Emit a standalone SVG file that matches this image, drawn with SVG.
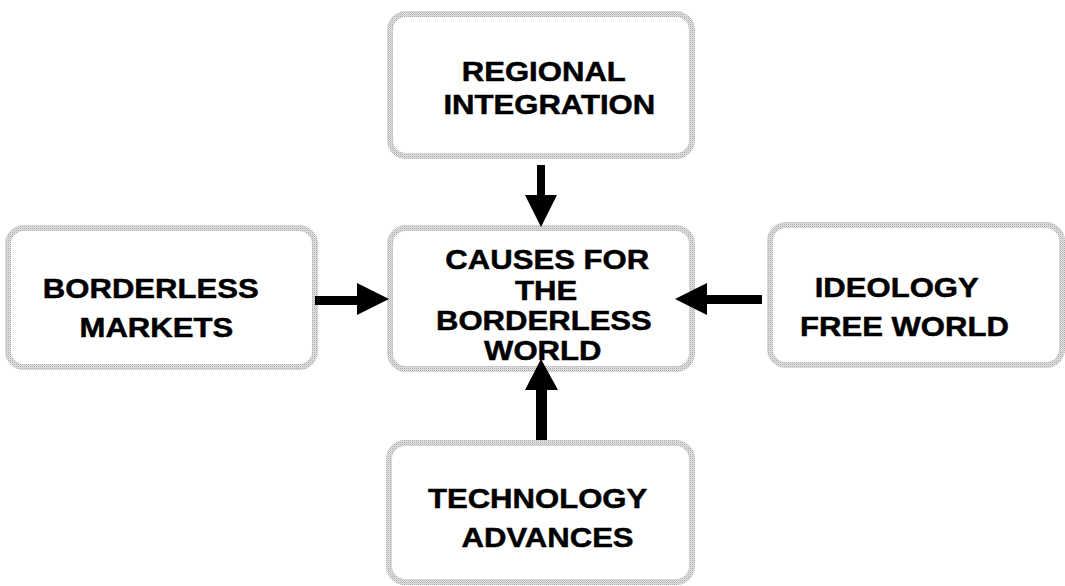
<svg xmlns="http://www.w3.org/2000/svg" width="1065" height="586" viewBox="0 0 1065 586">
  <defs>
    <!-- stippled grey used for the box outlines -->
    <pattern id="stipple" width="2" height="2" patternUnits="userSpaceOnUse">
      <rect width="2" height="2" fill="#e2e2e2"/>
      <rect width="1" height="1" fill="#ababab"/>
      <rect x="1" y="1" width="1" height="1" fill="#cfcfcf"/>
    </pattern>
  </defs>
  <style>
    .box { fill: #ffffff; stroke: url(#stipple); stroke-width: 6; }
    .lbl { font-family: "Liberation Sans", Arial, sans-serif; font-weight: bold; font-size: 28px; fill: #000; stroke: #000; stroke-width: 0.5; text-anchor: middle; }
    .arrow { fill: #000; stroke: none; }
  </style>
  <rect width="1065" height="586" fill="#ffffff"/>

  <g id="regional-integration">
    <rect class="box" x="390" y="14" width="302" height="142" rx="16"/>
    <g transform="translate(546,0) scale(1.11,1)">
      <text class="lbl" x="-2" y="81">REGIONAL</text>
      <text class="lbl" x="3" y="114">INTEGRATION</text>
    </g>
  </g>

  <g id="borderless-markets">
    <rect class="box" x="8" y="228" width="307" height="139" rx="16"/>
    <g transform="translate(153,0) scale(1.11,1)">
      <text class="lbl" x="-2" y="298">BORDERLESS</text>
      <text class="lbl" x="3" y="337">MARKETS</text>
    </g>
  </g>

  <g id="causes">
    <rect class="box" x="390" y="228" width="302" height="141" rx="16"/>
    <g transform="translate(545,0) scale(1.11,1)">
      <text class="lbl" x="2" y="269">CAUSES FOR</text>
      <text class="lbl" x="1" y="300">THE</text>
      <text class="lbl" x="-1" y="330">BORDERLESS</text>
      <text class="lbl" x="-2" y="360">WORLD</text>
    </g>
  </g>

  <g id="ideology-free-world">
    <rect class="box" x="770" y="225" width="292" height="140" rx="16"/>
    <g transform="translate(900,0) scale(1.11,1)">
      <text class="lbl" x="-3" y="297">IDEOLOGY</text>
      <text class="lbl" x="4" y="336">FREE WORLD</text>
    </g>
  </g>

  <g id="technology-advances">
    <rect class="box" x="389" y="443" width="303" height="139" rx="16"/>
    <g transform="translate(542,0) scale(1.11,1)">
      <text class="lbl" x="-4" y="508">TECHNOLOGY</text>
      <text class="lbl" x="5" y="547">ADVANCES</text>
    </g>
  </g>

  <g id="connectors">
    <polygon class="arrow" points="537,165 545,165 545,195 557,195 541,227 525,195 537,195"/>
    <polygon class="arrow" points="315,296 357,296 357,283 389,299 357,315 357,305 315,305"/>
    <polygon class="arrow" points="762,295 707,295 707,283 675,299 707,315 707,304 762,304"/>
    <polygon class="arrow" points="536,440 547,440 547,390 558,390 541,359 525,390 536,390"/>
  </g>
</svg>
